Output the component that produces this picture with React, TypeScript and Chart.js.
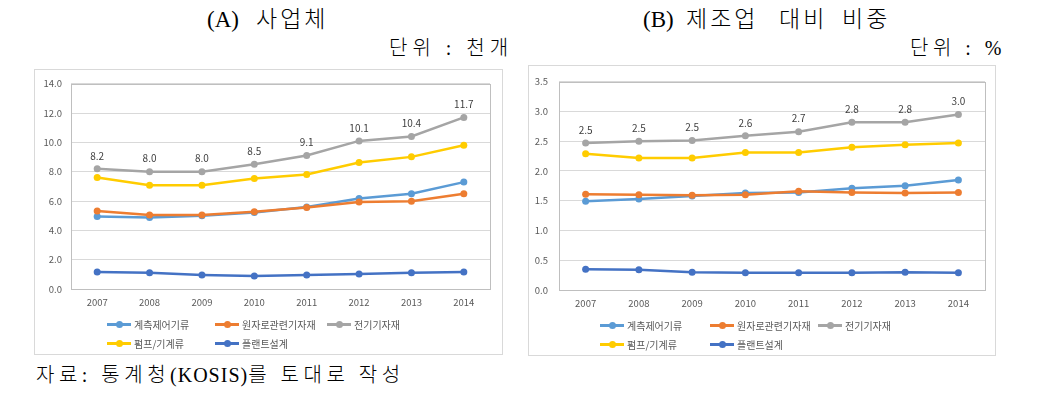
import React, { useEffect, useRef } from "react";
import { Chart, registerables } from "chart.js";
Chart.register(...registerables);

// ---- data ----
const years = ["2007", "2008", "2009", "2010", "2011", "2012", "2013", "2014"];
const seriesNames = ["계측제어기류", "원자로관련기자재", "전기기자재", "펌프/기계류", "플랜트설계"];
const seriesColors = ["#5B9BD5", "#ED7D31", "#A5A5A5", "#FFCC00", "#4472C4"];

// (A) 사업체 (천개)
const aMeasure = [4.94, 4.88, 4.99, 5.21, 5.59, 6.17, 6.49, 7.29];
const aNuclear = [5.32, 5.05, 5.05, 5.26, 5.55, 5.93, 5.99, 6.49];
const aElectric = [8.2, 8.0, 8.0, 8.5, 9.1, 10.1, 10.4, 11.7];
const aPump = [7.6, 7.07, 7.07, 7.54, 7.81, 8.63, 9.01, 9.8];
const aPlant = [1.16, 1.1, 0.96, 0.89, 0.96, 1.03, 1.1, 1.16];
const aElectricLabels = ["8.2", "8.0", "8.0", "8.5", "9.1", "10.1", "10.4", "11.7"];

// (B) 제조업 대비 비중 (%)
const bMeasure = [1.49, 1.53, 1.58, 1.63, 1.64, 1.71, 1.75, 1.85];
const bNuclear = [1.61, 1.6, 1.59, 1.6, 1.66, 1.64, 1.63, 1.64];
const bElectric = [2.47, 2.5, 2.51, 2.59, 2.66, 2.82, 2.82, 2.95];
const bPump = [2.29, 2.22, 2.22, 2.31, 2.31, 2.4, 2.44, 2.47];
const bPlant = [0.35, 0.34, 0.3, 0.29, 0.29, 0.29, 0.3, 0.29];
const bElectricLabels = ["2.5", "2.5", "2.5", "2.6", "2.7", "2.8", "2.8", "3.0"];

const aTicks = { min: 0, max: 14, step: 2 };
const bTicks = { min: 0, max: 3.5, step: 0.5 };

const FONT = '"Noto Sans CJK KR", "Noto Sans", sans-serif';

type PanelProps = {
  left: number;
  top: number;
  width: number;
  height: number;
  series: number[][];
  labels: string[];
  ticks: { min: number; max: number; step: number };
  pad: { top: number; right: number; bottom: number };
  yWidth: number;
  tickPad: number;
};

function ChartPanel(p: PanelProps) {
  const ref = useRef<HTMLCanvasElement | null>(null);
  useEffect(() => {
    if (!ref.current) return;
    const labelPlugin = {
      id: "grayLabels",
      afterDatasetsDraw(chart: any) {
        const ctx = chart.ctx;
        const meta = chart.getDatasetMeta(2);
        ctx.save();
        ctx.font = `10px ${FONT}`;
        ctx.fillStyle = "#404040";
        ctx.textAlign = "center";
        ctx.textBaseline = "middle";
        meta.data.forEach((pt: any, i: number) => {
          ctx.fillText(p.labels[i], pt.x, pt.y - 13);
        });
        ctx.restore();
      },
    };
    const borderPlugin = {
      id: "plotBorder",
      beforeDatasetsDraw(chart: any) {
        const { ctx, chartArea } = chart;
        ctx.save();
        ctx.strokeStyle = "#BFBFBF";
        ctx.lineWidth = 1;
        ctx.strokeRect(
          Math.round(chartArea.left) + 0.5,
          Math.round(chartArea.top) + 0.5,
          Math.round(chartArea.right - chartArea.left),
          Math.round(chartArea.bottom - chartArea.top)
        );
        ctx.restore();
      },
    };
    const chart = new Chart(ref.current, {
      type: "line",
      data: {
        labels: years,
        datasets: p.series.map((d, i) => ({
          label: seriesNames[i],
          data: d,
          borderColor: seriesColors[i],
          backgroundColor: seriesColors[i],
          pointBackgroundColor: seriesColors[i],
          pointBorderColor: seriesColors[i],
          borderWidth: 2.5,
          pointRadius: 3.5,
          pointBorderWidth: 0,
          tension: 0,
          order: 10 - i,
        })),
      },
      options: {
        animation: false,
        responsive: false,
        maintainAspectRatio: false,
        events: [],
        layout: { padding: { left: 0, top: p.pad.top, right: p.pad.right, bottom: p.pad.bottom } },
        plugins: { legend: { display: false }, tooltip: { enabled: false } },
        scales: {
          x: {
            offset: true,
            grid: { display: false, drawTicks: false },
            border: { display: false },
            ticks: { padding: 8, color: "#595959", font: { size: 9.5, family: FONT } },
            afterFit: (s: any) => {
              s.height = 20;
            },
          },
          y: {
            min: p.ticks.min,
            max: p.ticks.max,
            grid: { color: "#D9D9D9", drawTicks: false },
            border: { display: false },
            ticks: {
              stepSize: p.ticks.step,
              padding: p.tickPad,
              color: "#595959",
              font: { size: 9.5, family: FONT },
              callback: (v: any) => Number(v).toFixed(1),
            },
            afterFit: (s: any) => {
              s.width = p.yWidth;
            },
          },
        },
      },
      plugins: [borderPlugin, labelPlugin],
    } as any);
    return () => chart.destroy();
  }, []);
  return (
    <canvas
      ref={ref}
      width={p.width}
      height={p.height}
      style={{ position: "absolute", left: p.left, top: p.top, width: p.width, height: p.height }}
    />
  );
}

function Legend({ cols, rows }: { cols: number[]; rows: number[] }) {
  const pos = [
    [cols[0], rows[0]],
    [cols[1], rows[0]],
    [cols[2], rows[0]],
    [cols[0], rows[1]],
    [cols[1], rows[1]],
  ];
  return (
    <>
      {seriesNames.map((name, i) => (
        <div
          key={name}
          style={{
            position: "absolute",
            left: pos[i][0],
            top: pos[i][1] - 8,
            height: 16,
            display: "flex",
            alignItems: "center",
            whiteSpace: "nowrap",
          }}
        >
          <span style={{ position: "relative", width: 24, height: 16, display: "inline-block" }}>
            <span
              style={{ position: "absolute", left: 0, top: 6.5, width: 24, height: 3, background: seriesColors[i] }}
            />
            <span
              style={{
                position: "absolute",
                left: 8.5,
                top: 4.5,
                width: 7,
                height: 7,
                borderRadius: "50%",
                background: seriesColors[i],
              }}
            />
          </span>
          <span style={{ marginLeft: 3, fontFamily: FONT, fontSize: 10, color: "#595959" }}>{name}</span>
        </div>
      ))}
    </>
  );
}

const titleStyle: React.CSSProperties = {
  position: "absolute",
  fontFamily: '"Liberation Serif", "Noto Sans CJK KR", serif',
  fontSize: 23,
  fontWeight: 300,
  color: "#000",
  whiteSpace: "nowrap",
  lineHeight: "26px",
};

function Title({ words, lefts, top }: { words: string[]; lefts: number[]; top: number }) {
  return (
    <div style={{ position: "absolute", left: 0, top, height: 26, width: 1038 }}>
      {words.map((w, i) => (
        <span key={i} style={{ ...titleStyle, left: lefts[i], top: 0, letterSpacing: i === 0 ? 0 : 3 }}>
          {w}
          {i < words.length - 1 ? " " : ""}
        </span>
      ))}
    </div>
  );
}

export default function App() {
  return (
    <div style={{ position: "absolute", left: 0, top: 0, width: 1038, height: 420, background: "#fff", overflow: "hidden" }}>
      <Title words={["(A)", "사업체"]} lefts={[207, 256]} top={7} />
      <Title words={["(B)", "제조업", "대비", "비중"]} lefts={[643, 686, 779, 842]} top={7} />
      <div style={{ ...titleStyle, left: 389, top: 35, fontSize: 20, letterSpacing: 5 }}>단위 : 천개</div>
      <div style={{ ...titleStyle, left: 910, top: 35, fontSize: 20, letterSpacing: 4.5 }}>단위 : %</div>

      <div style={{ position: "absolute", left: 34, top: 69, width: 469, height: 286, boxSizing: "border-box", border: "1px solid #D9D9D9" }} />
      <div style={{ position: "absolute", left: 528, top: 65, width: 468, height: 291, boxSizing: "border-box", border: "1px solid #D9D9D9" }} />

      <ChartPanel
        left={34}
        top={69}
        width={469}
        height={286}
        series={[aMeasure, aNuclear, aElectric, aPump, aPlant]}
        labels={aElectricLabels}
        ticks={aTicks}
        pad={{ top: 11, right: 13, bottom: 46 }}
        yWidth={37}
        tickPad={9}
      />
      <ChartPanel
        left={528}
        top={65}
        width={468}
        height={291}
        series={[bMeasure, bNuclear, bElectric, bPump, bPlant]}
        labels={bElectricLabels}
        ticks={bTicks}
        pad={{ top: 14, right: 11, bottom: 46 }}
        yWidth={31}
        tickPad={11}
      />

      <Legend cols={[107, 215, 327]} rows={[324, 343]} />
      <Legend cols={[600, 710, 818]} rows={[325, 344]} />

      <div style={{ ...titleStyle, left: 36, top: 362, fontSize: 20 }}>
        <span style={{ letterSpacing: 4.5 }}>자료: 통계청</span>
        <span style={{ letterSpacing: 1 }}>(KOSIS)</span>
        <span style={{ letterSpacing: 4.5 }}>를 토대로 작성</span>
      </div>
    </div>
  );
}
